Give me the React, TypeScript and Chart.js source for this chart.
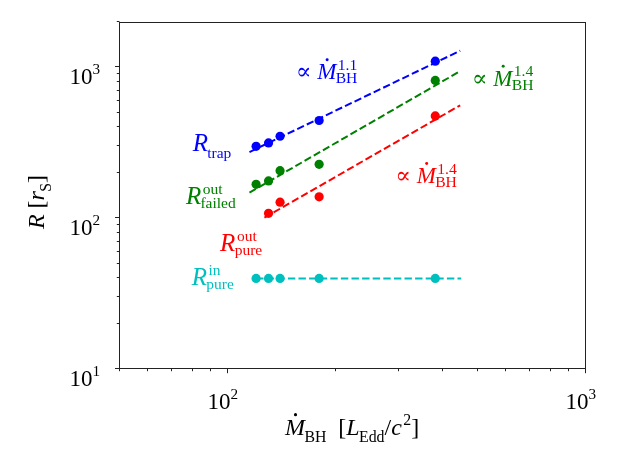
import React, { useEffect, useRef } from 'react';
import { Chart, registerables } from 'chart.js';

Chart.register(...registerables);

// ---- data ----
const mdotAll = [120, 130, 140, 180, 380];
const rTrap = [300, 316, 350, 445, 1100];
const rFailedOut = [168, 177, 207, 228, 820];
const mdotPureOut = [130, 140, 180, 380];
const rPureOut = [108, 128, 139, 477];
const rPureIn = [40, 40, 40, 40, 40];

// dashed power-law guides (end points)
const fitTrapX = [115, 446];
const fitTrapY = [275, 1290];
const fitFailedX = [115, 446];
const fitFailedY = [148, 945];
const fitPureOutX = [126.6, 446];
const fitPureOutY = [101, 561];
const fitPureInX = [120, 449];
const fitPureInY = [40, 40];

const xMajorTicks = [100, 1000];
const xTickLabels = ['2', '3']; // exponents of 10
const yMajorTicks = [10, 100, 1000];
const yTickLabels = ['1', '2', '3'];

const X_MIN = 50, X_MAX = 1000, Y_MIN = 10, Y_MAX = 2000;

const BLUE = '#0000ff';
const GREEN = '#008000';
const RED = '#ff0000';
const CYAN = '#00bfbf';

const SERIF = '"Liberation Serif", "Times New Roman", "DejaVu Serif", serif';

type Piece = { base: string; it?: boolean; dot?: boolean; sup?: string; sub?: string };

function fnt(size: number, it?: boolean) {
  return `${it ? 'italic ' : ''}${size}px ${SERIF}`;
}

function richWidth(ctx: CanvasRenderingContext2D, pieces: Piece[], size: number, ratio = 0.66) {
  const small = size * ratio;
  let w = 0;
  for (const p of pieces) {
    ctx.font = fnt(size, p.it);
    w += ctx.measureText(p.base).width;
    let sw = 0;
    ctx.font = fnt(small, false);
    if (p.sup) sw = Math.max(sw, ctx.measureText(p.sup).width + (p.it ? size * 0.06 : 0));
    if (p.sub) sw = Math.max(sw, ctx.measureText(p.sub).width);
    w += sw;
  }
  return w;
}

function drawRich(
  ctx: CanvasRenderingContext2D,
  x: number,
  y: number,
  pieces: Piece[],
  size: number,
  color: string,
  ratio = 0.66
) {
  const small = size * ratio;
  ctx.fillStyle = color;
  ctx.textAlign = 'left';
  ctx.textBaseline = 'alphabetic';
  let cx = x;
  for (const p of pieces) {
    ctx.font = fnt(size, p.it);
    ctx.fillText(p.base, cx, y);
    const bw = ctx.measureText(p.base).width;
    if (p.dot) {
      ctx.beginPath();
      ctx.arc(cx + bw * 0.52, y - size * 0.86, size * 0.065, 0, Math.PI * 2);
      ctx.fill();
    }
    cx += bw;
    let sw = 0;
    ctx.font = fnt(small, false);
    const both = !!(p.sup && p.sub);
    if (p.sup) {
      const off = p.it ? size * 0.06 : 0;
      ctx.fillText(p.sup, cx + off, y - size * 0.42);
      sw = Math.max(sw, ctx.measureText(p.sup).width + off);
    }
    if (p.sub) {
      const off = p.it ? -size * 0.03 : 0;
      ctx.fillText(p.sub, cx + off, y + (both ? size * 0.16 : size * 0.28));
      sw = Math.max(sw, ctx.measureText(p.sub).width + off);
    }
    cx += sw;
  }
}

// annotations: anchored in data coordinates (left, baseline)
const annotations: { x: number; y: number; pieces: Piece[]; color: string; size: number; ratio: number }[] = [
  { x: 155, y: 833, color: BLUE, size: 23, ratio: 0.68, pieces: [{ base: '∝ ' }, { base: 'M', it: true, dot: true, sup: '1.1', sub: 'BH' }] },
  { x: 481, y: 752, color: GREEN, size: 23, ratio: 0.68, pieces: [{ base: '∝ ' }, { base: 'M', it: true, dot: true, sup: '1.4', sub: 'BH' }] },
  { x: 294, y: 171, color: RED, size: 23, ratio: 0.68, pieces: [{ base: '∝ ' }, { base: 'M', it: true, dot: true, sup: '1.4', sub: 'BH' }] },
  { x: 79.8, y: 281, color: BLUE, size: 25, ratio: 0.62, pieces: [{ base: 'R', it: true, sub: 'trap' }] },
  { x: 76.4, y: 124, color: GREEN, size: 25, ratio: 0.62, pieces: [{ base: 'R', it: true, sup: 'out', sub: 'failed' }] },
  { x: 95.2, y: 60.7, color: RED, size: 25, ratio: 0.62, pieces: [{ base: 'R', it: true, sup: 'out', sub: 'pure' }] },
  { x: 79.3, y: 36.1, color: CYAN, size: 25, ratio: 0.62, pieces: [{ base: 'R', it: true, sup: 'in', sub: 'pure' }] },
];

const decorPlugin = {
  id: 'decor',
  afterDatasetsDraw(chart: any) {
    const ctx: CanvasRenderingContext2D = chart.ctx;
    const xs = chart.scales.x;
    const ys = chart.scales.y;
    const { left, right, top, bottom } = chart.chartArea;
    ctx.save();

    // annotations
    for (const a of annotations) {
      drawRich(ctx, xs.getPixelForValue(a.x), ys.getPixelForValue(a.y), a.pieces, a.size, a.color, a.ratio);
    }

    // frame
    ctx.strokeStyle = '#222';
    ctx.lineWidth = 1;
    const L = Math.round(left) - 0.5, R = Math.round(right) - 0.5, T = Math.round(top) + 0.5, B = Math.round(bottom) - 0.5;
    ctx.strokeRect(L, T, R - L, B - T);

    // ticks
    ctx.beginPath();
    for (let d = 10; d <= 1000; d *= 10) {
      for (let m = 1; m <= 9; m++) {
        const v = d * m;
        if (v >= X_MIN && v <= X_MAX) {
          const px = Math.round(xs.getPixelForValue(v)) - 0.5;
          const len = m === 1 ? 4.7 : 2.7;
          ctx.moveTo(px, B);
          ctx.lineTo(px, B + len);
        }
      }
    }
    for (let d = 10; d <= 1000; d *= 10) {
      for (let m = 1; m <= 9; m++) {
        const v = d * m;
        if (v >= Y_MIN && v <= Y_MAX) {
          const py = Math.round(ys.getPixelForValue(v)) - 0.5;
          const len = m === 1 ? 4.5 : 2.7;
          ctx.moveTo(L, py);
          ctx.lineTo(L - len, py);
        }
      }
    }
    ctx.stroke();

    // tick labels
    const TS = 23;
    xMajorTicks.forEach((v, i) => {
      const pieces: Piece[] = [{ base: '10', sup: xTickLabels[i] }];
      const w = richWidth(ctx, pieces, TS);
      const px = xs.getPixelForValue(v);
      drawRich(ctx, px - 5 - w / 2, bottom + 39.7, pieces, TS, '#000');
    });
    yMajorTicks.forEach((v, i) => {
      const pieces: Piece[] = [{ base: '10', sup: yTickLabels[i] }];
      const w = richWidth(ctx, pieces, TS);
      const py = ys.getPixelForValue(v);
      drawRich(ctx, left - 20 - w, py + 16.3, pieces, TS, '#000');
    });

    // x title
    const LS = 24;
    const xt: Piece[] = [
      { base: 'M', it: true, dot: true, sub: 'BH' },
      { base: '\u2002[' },
      { base: 'L', it: true, sub: 'Edd' },
      { base: '/' },
      { base: 'c', it: true, sup: '2' },
      { base: ']' },
    ];
    const xw = richWidth(ctx, xt, LS);
    drawRich(ctx, (left + right) / 2 - xw / 2, bottom + 66, xt, LS, '#000');

    // y title
    const yt: Piece[] = [{ base: 'R', it: true }, { base: ' [' }, { base: 'r', it: true, sub: 'S' }, { base: ']' }];
    const yw = richWidth(ctx, yt, LS);
    ctx.translate(left - 76, (top + bottom) / 2 + 6);
    ctx.rotate(-Math.PI / 2);
    drawRich(ctx, -yw / 2, 0, yt, LS, '#000');

    ctx.restore();
  },
};

function pts(xs: number[], ys: number[]) {
  return xs.map((x, i) => ({ x, y: ys[i] }));
}

function pointSet(label: string, xs: number[], ys: number[], color: string) {
  return {
    label,
    data: pts(xs, ys),
    showLine: false,
    pointRadius: 4.6,
    pointHoverRadius: 4.6,
    pointBackgroundColor: color,
    pointBorderColor: color,
    pointBorderWidth: 0,
    backgroundColor: color,
    borderColor: color,
  };
}

function lineSet(label: string, xs: number[], ys: number[], color: string) {
  return {
    label,
    data: pts(xs, ys),
    showLine: true,
    pointRadius: 0,
    pointHoverRadius: 0,
    borderColor: color,
    backgroundColor: color,
    borderWidth: 2,
    borderDash: [7.4, 3.2],
    fill: false,
  };
}

export default function App() {
  const ref = useRef<HTMLCanvasElement | null>(null);
  useEffect(() => {
    if (!ref.current) return;
    const chart = new Chart(ref.current, {
      type: 'scatter',
      data: {
        datasets: [
          pointSet('trap', mdotAll, rTrap, BLUE),
          pointSet('failed out', mdotAll, rFailedOut, GREEN),
          pointSet('pure out', mdotPureOut, rPureOut, RED),
          pointSet('pure in', mdotAll, rPureIn, CYAN),
          lineSet('fit trap', fitTrapX, fitTrapY, BLUE),
          lineSet('fit failed', fitFailedX, fitFailedY, GREEN),
          lineSet('fit pure out', fitPureOutX, fitPureOutY, RED),
          lineSet('fit pure in', fitPureInX, fitPureInY, CYAN),
        ] as any,
      },
      options: {
        responsive: false,
        animation: false,
        devicePixelRatio: 1,
        layout: { padding: { left: 120, right: 33.3, top: 22, bottom: 91.7 } },
        plugins: { legend: { display: false }, tooltip: { enabled: false } },
        scales: {
          x: { type: 'logarithmic', min: X_MIN, max: X_MAX, display: false },
          y: { type: 'logarithmic', min: Y_MIN, max: Y_MAX, display: false },
        },
      },
      plugins: [decorPlugin],
    });
    return () => chart.destroy();
  }, []);
  return (
    <div style={{ position: 'absolute', left: 0, top: 0, width: 619, height: 461, background: '#fff' }}>
      <canvas ref={ref} width={619} height={461} style={{ width: 619, height: 461, display: 'block' }} />
    </div>
  );
}
